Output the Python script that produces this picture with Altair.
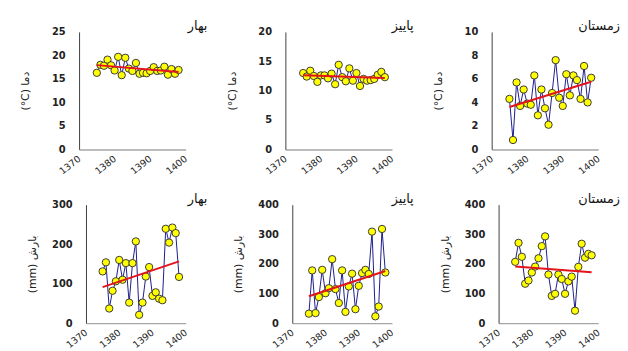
import altair as alt
import pandas as pd

years = list(range(1375, 1399))

spring_temp = [16.3, 18.0, 17.8, 19.1, 17.9, 16.8, 19.7, 15.8, 19.5, 17.2, 16.7, 18.4,
               16.1, 16.3, 16.2, 16.7, 17.5, 16.7, 16.8, 17.6, 15.9, 17.1, 16.1, 16.9]
autumn_temp = [13.0, 12.4, 13.4, 12.5, 11.5, 12.6, 12.6, 12.1, 12.9, 11.1, 14.4, 12.3,
               11.6, 13.8, 11.7, 13.0, 10.8, 12.0, 11.7, 11.8, 12.0, 12.7, 13.2, 12.3]
winter_temp = [4.3, 0.8, 5.7, 3.7, 5.1, 3.9, 3.8, 6.3, 2.9, 5.1, 3.5, 2.1,
               4.8, 7.6, 4.4, 3.7, 6.4, 4.6, 6.3, 5.9, 4.3, 7.1, 4.0, 6.1]

spring_rain = [131, 154, 37, 82, 106, 160, 110, 152, 52, 152, 207, 21,
               52, 118, 142, 69, 78, 62, 58, 239, 204, 242, 228, 117]
autumn_rain = [32, 178, 34, 88, 180, 101, 118, 216, 115, 68, 178, 38,
               124, 167, 47, 126, 169, 180, 166, 309, 23, 56, 318, 171]
winter_rain = [207, 271, 224, 133, 144, 171, 191, 219, 260, 293, 164, 92,
               99, 164, 149, 99, 141, 157, 42, 190, 268, 221, 234, 229]

seasons = ["بهار", "پاییز", "زمستان"]
temp_title = "(°C) دما"
rain_title = "(mm) بارش"
x_ticks = [1370, 1380, 1390, 1400]

FONT = "DejaVu Sans"


def panel(vals, season, ymax, ystep, ytitle, bottom):
    df = pd.DataFrame({"year": years, "v": vals})
    w = 108
    h = 120 if bottom else 119
    xr = [7, w] if bottom else [0, w]
    xenc = alt.X(
        "year:Q",
        scale=alt.Scale(domain=[1370, 1400], range=xr, nice=False, zero=False),
        axis=alt.Axis(
            values=x_ticks, format="d", labelAngle=-38, labelAlign="right",
            labelBaseline="middle", labelPadding=8, ticks=False, grid=False,
            domainColor="#a6a6a6", domainWidth=1.5, labelFont=FONT,
            labelFontSize=9.5, labelColor="#222222", title=None,
            labelFlush=False, labelOverlap=False,
        ),
    )
    yaxis = dict(
        values=list(range(0, ymax + 1, ystep)), ticks=False, grid=False,
        domainColor="#404040", domainWidth=1, labelFont=FONT,
        labelFontWeight="bold", labelFontSize=10, labelColor="#222222",
        labelPadding=14, title=ytitle, titleFont=FONT, titleFontSize=11,
        titleFontWeight="normal", titleColor="#222222", titlePadding=9,
        minExtent=40, maxExtent=40,
    )
    if bottom:
        yaxis["offset"] = -7
    yenc = alt.Y("v:Q", scale=alt.Scale(domain=[0, ymax], nice=False, zero=True),
                 axis=alt.Axis(**yaxis))
    base = alt.Chart(df)
    line = base.mark_line(color="#1c1c8a", strokeWidth=1).encode(x=xenc, y=yenc)
    pts = base.mark_point(filled=True, fill="#ffff00", stroke="#3a3a3a",
                          strokeWidth=1, size=55, opacity=1).encode(x=xenc, y=yenc)
    trend = base.transform_regression("year", "v").mark_line(
        color="#e3141b", strokeWidth=2).encode(x=xenc, y=yenc)
    return alt.layer(line, pts, trend).properties(
        width=w, height=h,
        title=alt.TitleParams(season, anchor="end", orient="top", frame="group",
                              dx=22, offset=-19.5, baseline="bottom", font=FONT,
                              fontSize=13, fontWeight="normal", color="#111111"),
    )


panels = [
    panel(spring_temp, seasons[0], 25, 5, temp_title, False),
    panel(autumn_temp, seasons[1], 20, 5, temp_title, False),
    panel(winter_temp, seasons[2], 10, 2, temp_title, False),
    panel(spring_rain, seasons[0], 300, 100, rain_title, True),
    panel(autumn_rain, seasons[1], 400, 100, rain_title, True),
    panel(winter_rain, seasons[2], 400, 100, rain_title, True),
]

chart = alt.ConcatChart(
    concat=panels, columns=3, spacing={"row": 56, "column": 101}, bounds="flush",
).properties(
    padding={"left": 12, "top": 10, "right": 0, "bottom": 0},
    background="white",
).configure_view(stroke=None)

chart.save("out.html", embed_options={"renderer": "svg", "actions": False})
